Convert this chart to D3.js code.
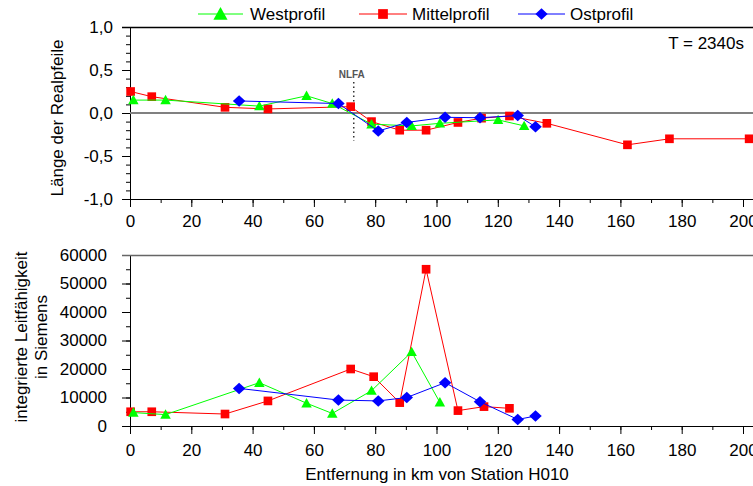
<!DOCTYPE html>
<html lang="de">
<head>
<meta charset="utf-8">
<title>Realpfeile und Leitfähigkeit</title>
<script src="https://cdn.jsdelivr.net/npm/d3@7"></script>
<style>
  body { margin: 0; background: #fff; }
  svg { font-family: "Liberation Sans", Arial, sans-serif; }
</style>
</head>
<body>
<script>
// Entfernung (km) und Werte je Profil
var westKm    = [1.1, 11.6, 42.2, 57.6, 66, 78.8, 91.9, 101.1, 120.1, 128.6];
var westReal  = [0.15, 0.15, 0.08, 0.20, 0.11, -0.13, -0.15, -0.12, -0.08, -0.15];
var westKm2   = [1.1, 11.6, 42.2, 57.6, 66, 78.8, 91.9, 101.1];
var westLeit  = [4700, 4000, 15200, 8000, 4400, 12400, 26000, 8300];

var mittKm    = [0.2, 7.1, 31, 45, 72, 78.8, 88, 96.6, 107, 114.7, 123.8, 136, 162.3, 176, 202];
var mittReal  = [0.25, 0.19, 0.066, 0.047, 0.074, -0.10, -0.20, -0.20, -0.11, -0.06, -0.035, -0.12, -0.37, -0.30, -0.30];
var mittKm2   = [0.2, 7.1, 31, 45, 72, 79.5, 88, 96.6, 107, 115.5, 123.8];
var mittLeit  = [5000, 5000, 4200, 8800, 20000, 17300, 8200, 55000, 5400, 6800, 6200];

var ostKm     = [35.6, 68, 81, 90.3, 102.8, 114.2, 126.5, 132.3];
var ostReal   = [0.14, 0.11, -0.21, -0.11, -0.05, -0.055, -0.03, -0.16];
var ostLeit   = [13200, 9100, 8800, 10000, 15200, 8500, 2300, 3500];

var xTicks    = [0, 20, 40, 60, 80, 100, 120, 140, 160, 180, 200];
var topTicks  = [-1, -0.5, 0, 0.5, 1];
var botTicks  = [0, 10000, 20000, 30000, 40000, 50000, 60000];
var nlfaKm    = 73;

var W = 753, H = 486;
var svg = d3.select("body").append("svg").attr("width", W).attr("height", H);

var x = d3.scaleLinear().domain([0, 200]).range([130, 743]);
var yTop = d3.scaleLinear().domain([-1, 1]).range([199, 27]);
var yBot = d3.scaleLinear().domain([0, 60000]).range([426, 255]);

function komma(d) { return d3.format(".1f")(d).replace(".", ",").replace("\u2212", "-"); }

// Dreieck und Raute wie im Original (size ~ Kantenlänge^2)
var triangle = {
  draw: function(ctx, size) {
    var w = Math.sqrt(size) / 2;
    ctx.moveTo(0, -w); ctx.lineTo(w, w * 0.8); ctx.lineTo(-w, w * 0.8); ctx.closePath();
  }
};
var rhombus = {
  draw: function(ctx, size) {
    var r = Math.sqrt(size) / 2;
    ctx.moveTo(0, -r * 0.92); ctx.lineTo(r, 0); ctx.lineTo(0, r * 0.92); ctx.lineTo(-r, 0); ctx.closePath();
  }
};

function sym(type, size) {
  return d3.symbol().type(type).size(size)();
}

var series = [
  {name: "Mittelprofil", color: "#ff0000", shape: d3.symbolSquare, size: 75, km: mittKm, real: mittReal, km2: mittKm2, leit: mittLeit},
  {name: "Westprofil", color: "#00ff00", shape: triangle, size: 110, km: westKm, real: westReal, km2: westKm2, leit: westLeit},
  {name: "Ostprofil", color: "#0000ff", shape: rhombus, size: 156, km: ostKm, real: ostReal, km2: ostKm, leit: ostLeit}
];

function axes(g, y, major, minor, fmt, pad, borderCol) {
  // x Achse
  g.append("g").attr("transform", "translate(0," + y.range()[0] + ")")
    .call(d3.axisBottom(x).tickValues(d3.range(0, 201, 10)).tickSize(4).tickFormat(""))
    .call(function(s) { s.select(".domain").remove(); });
  g.append("g").attr("transform", "translate(0," + y.range()[0] + ")")
    .call(d3.axisBottom(x).tickValues(xTicks).tickSize(8).tickPadding(pad[0]).tickFormat(d3.format("d")))
    .call(function(s) { s.select(".domain").attr("d", "M130,0.5H753"); s.selectAll("text").attr("font-size", 17).attr("fill", "#000").attr("font-family", "Liberation Sans, Arial"); });
  // y Achse
  g.append("g").attr("transform", "translate(130,0)")
    .call(d3.axisLeft(y).tickValues(minor).tickSize(4).tickFormat(""))
    .call(function(s) { s.select(".domain").remove(); });
  g.append("g").attr("transform", "translate(130,0)")
    .call(d3.axisLeft(y).tickValues(major).tickSize(8).tickPadding(pad[1]).tickFormat(fmt))
    .call(function(s) { s.selectAll("text").attr("font-size", 17).attr("fill", "#000").attr("font-family", "Liberation Sans, Arial"); });
  g.append("line").attr("x1", 122).attr("x2", W).attr("y1", y.range()[1] + 0.5).attr("y2", y.range()[1] + 0.5)
    .attr("stroke", borderCol).attr("stroke-width", 1.5);
}

// oberes Diagramm
var topG = svg.append("g");
axes(topG, yTop, topTicks, d3.range(-10, 11).map(function(d) { return d / 10; }), komma, [8, 9], "#000");
topG.append("line").attr("x1", 130).attr("x2", W).attr("y1", yTop(0)).attr("y2", yTop(0))
  .attr("stroke", "#808080").attr("stroke-width", 2);
topG.append("line").attr("x1", x(nlfaKm)).attr("x2", x(nlfaKm)).attr("y1", 82).attr("y2", 141)
  .attr("stroke", "#333").attr("stroke-width", 1.5).attr("stroke-dasharray", "1.5,3");
topG.append("text").attr("x", x(nlfaKm) - 2).attr("y", 78).attr("text-anchor", "middle")
  .attr("font-size", 10).attr("font-weight", "bold").attr("fill", "#555").text("NLFA");
topG.append("text").attr("x", 744).attr("y", 49).attr("text-anchor", "end")
  .attr("font-size", 17).text("T = 2340s");
topG.append("text").attr("transform", "translate(63,118) rotate(-90)").attr("text-anchor", "middle")
  .attr("font-size", 17).text("Länge der Realpfeile");

series.forEach(function(s) {
  var pts = s.km.map(function(k, i) { return [x(k), yTop(s.real[i])]; });
  topG.append("path").attr("d", d3.line()(pts)).attr("fill", "none").attr("stroke", s.color).attr("stroke-width", 1);
  topG.selectAll(null).data(pts).enter().append("path")
    .attr("d", sym(s.shape, s.size)).attr("fill", s.color)
    .attr("transform", function(p) { return "translate(" + p[0] + "," + p[1] + ")"; });
});

// unteres Diagramm
var botG = svg.append("g");
axes(botG, yBot, botTicks, d3.range(0, 60001, 5000), d3.format("d"), [10, 15], "#666");
botG.append("text").attr("transform", "translate(27,337) rotate(-90)").attr("text-anchor", "middle")
  .attr("font-size", 17).text("integrierte Leitfähigkeit");
botG.append("text").attr("transform", "translate(47,337) rotate(-90)").attr("text-anchor", "middle")
  .attr("font-size", 17).text("in Siemens");
botG.append("text").attr("x", 437).attr("y", 480).attr("text-anchor", "middle")
  .attr("font-size", 17).text("Entfernung in km von Station H010");

series.forEach(function(s) {
  var pts = s.km2.map(function(k, i) { return [x(k), yBot(s.leit[i])]; });
  botG.append("path").attr("d", d3.line()(pts)).attr("fill", "none").attr("stroke", s.color).attr("stroke-width", 1);
  botG.selectAll(null).data(pts).enter().append("path")
    .attr("d", sym(s.shape, s.size)).attr("fill", s.color)
    .attr("transform", function(p) { return "translate(" + p[0] + "," + p[1] + ")"; });
});

// Legende
var legend = [
  {s: series[1], x0: 198, x1: 243, tx: 250, sz: 200},
  {s: series[0], x0: 359, x1: 407, tx: 412, sz: 95},
  {s: series[2], x0: 518, x1: 565, tx: 570, sz: 150}
];
legend.forEach(function(l) {
  var g = svg.append("g");
  g.append("line").attr("x1", l.x0).attr("x2", l.x1).attr("y1", 14).attr("y2", 14).attr("stroke", l.s.color);
  g.append("path").attr("d", sym(l.s.shape, l.sz)).attr("fill", l.s.color)
    .attr("transform", "translate(" + (l.x0 + l.x1) / 2 + ",14)");
  g.append("text").attr("x", l.tx).attr("y", 20).attr("font-size", 17).text(l.s.name);
});
</script>
</body>
</html>
